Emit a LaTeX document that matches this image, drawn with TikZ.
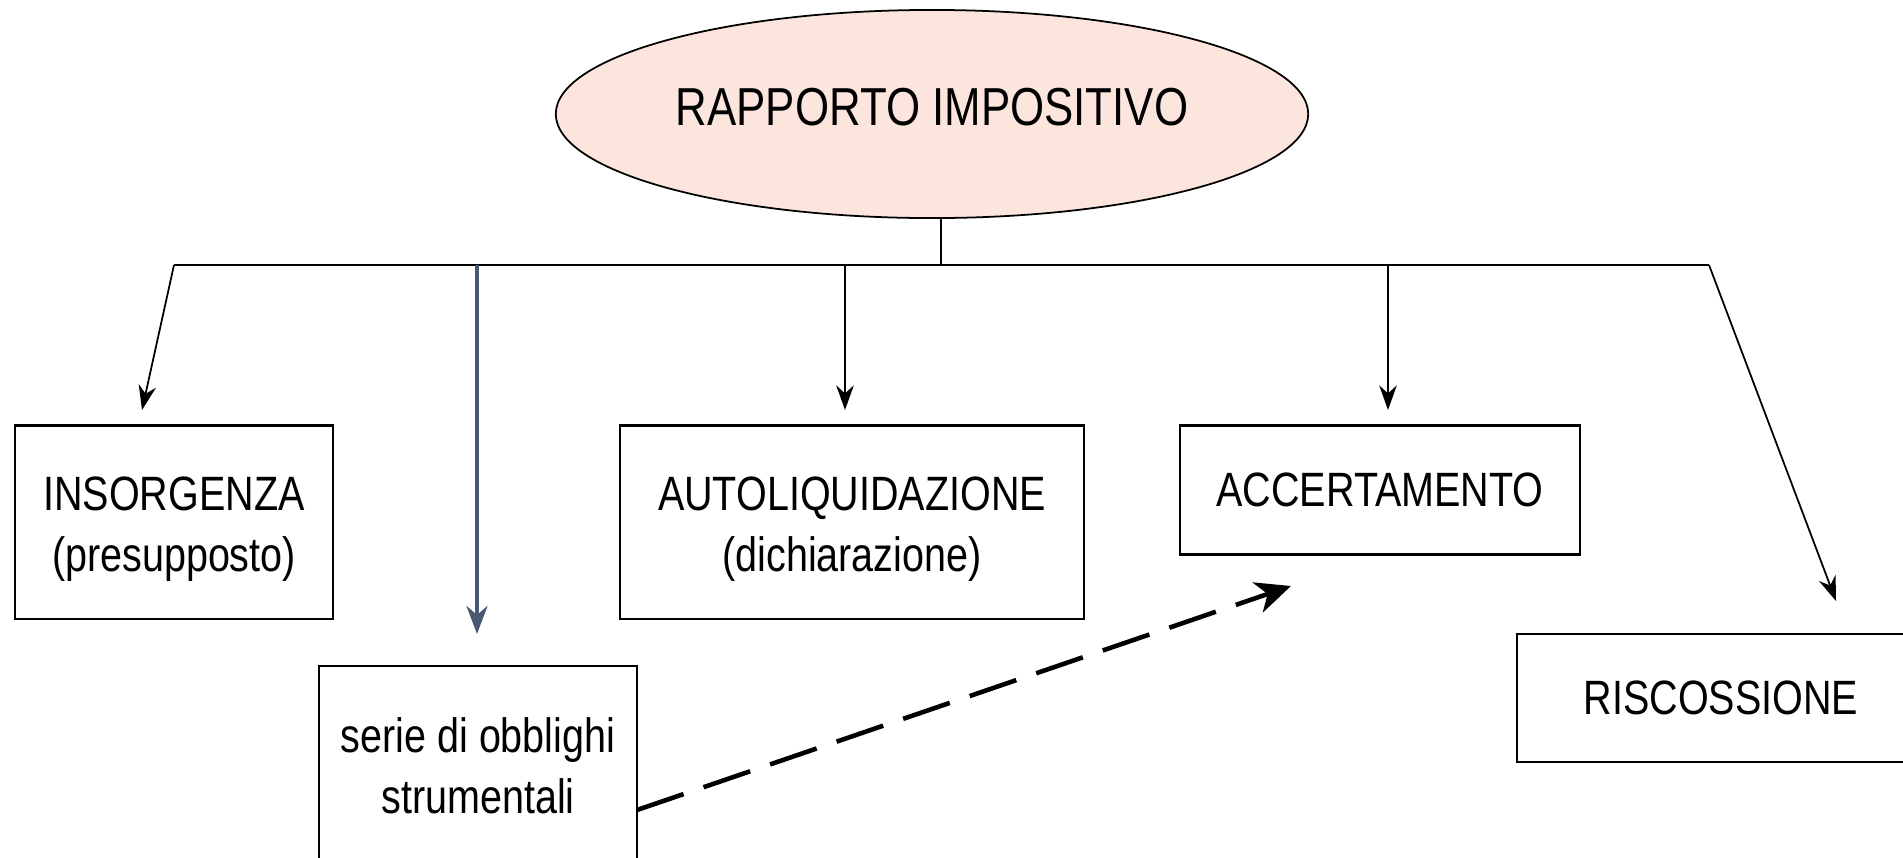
\documentclass[tikz,border=0pt]{standalone}
\usepackage{fontspec}
\setmainfont{Liberation Sans}[FakeStretch=0.82]
\usepackage{tikz}
\usetikzlibrary{shapes.geometric}
\usetikzlibrary{arrows.meta}
\definecolor{ovalfill}{HTML}{FBE5DD}
\definecolor{slate}{HTML}{4A5872}
\newcommand{\lowstrut}{\rule{0pt}{13.5pt}}

\begin{document}
\begin{tikzpicture}[x=0.01cm,y=-0.01cm,
    font=\fontsize{13.7}{17.4}\selectfont,
    oval/.style={ellipse,draw,line width=0.5pt,fill=ovalfill,inner sep=0pt,
        minimum width=7.52cm,minimum height=2.08cm,text depth=0.14cm,
        font=\fontsize{15.2}{18}\selectfont},
    box/.style={draw,line width=0.6pt,align=center,inner sep=0pt,outer sep=0pt},
    conn/.style={line width=0.5pt},
    tip/.style={-{Stealth[length=7pt,width=5pt]},line width=0.5pt}]
\useasboundingbox (0,0) rectangle (1903,857);

\node[oval] (rap) at (932,114) {RAPPORTO IMPOSITIVO};

\node[box,minimum width=3.18cm,minimum height=1.93cm] (ins) at (174,522) {\lowstrut INSORGENZA\\(presupposto)};
\node[box,minimum width=4.64cm,minimum height=1.93cm] (aut) at (852,522) {\lowstrut AUTOLIQUIDAZIONE\\(dichiarazione)};
\node[box,minimum width=4.00cm,minimum height=1.29cm] (acc) at (1380,490) {ACCERTAMENTO};
\node[box,minimum width=3.18cm,minimum height=2.00cm] (ser) at (478,766) {serie di obblighi\\strumentali};
\node[box,minimum width=4.08cm,minimum height=1.28cm] (ris) at (1721,698) {RISCOSSIONE};

% trunk
\coordinate (top) at (941,265);
\coordinate (tl) at (174,265);
\coordinate (tm) at (683,265);
\coordinate (tr) at (1709,265);
\draw[conn] (rap.south -| top) -- (top);
\draw[line width=0.7pt] (tl) -- (tm);
\draw[conn] (tm) -- (tr);

% branches
\coordinate (insend) at (142,410);
\coordinate (serstart) at (477,265);
\coordinate (serend) at (477,634);
\coordinate (autstart) at (845,265);
\coordinate (autend) at (845,410);
\coordinate (accstart) at (1388,265);
\coordinate (accend) at (1388,410);
\coordinate (risend) at (1836,601);
\draw[tip] (tl) -- (insend);
\draw[-{Stealth[length=8pt,width=6pt]},line width=1pt,slate] (serstart) -- (serend);
\draw[tip] (autstart) -- (autend);
\draw[tip] (accstart) -- (accend);
\draw[tip] (tr) -- (risend);

% dashed link
\coordinate (dstart) at (637,810);
\coordinate (dend) at (1291,586);
\draw[-{Stealth[length=10pt,width=9pt,inset=3pt]},line width=1.3pt,dash pattern=on 14pt off 6pt] (dstart) -- (dend);
\end{tikzpicture}
\end{document}
